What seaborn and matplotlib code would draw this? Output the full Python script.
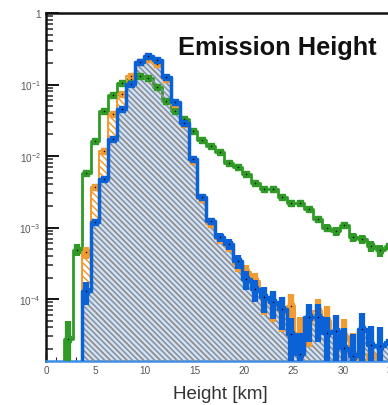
import numpy as np
import pandas as pd
import matplotlib
matplotlib.use("Agg")
import matplotlib.pyplot as plt
from matplotlib.ticker import LogLocator, NullFormatter, FixedLocator, MultipleLocator
import seaborn as sns

# ---------------- data (normalised fraction per bin, 0.9 km bins starting at 0) ----------------
bin_width = 0.9
n_bins = 45
green_vals = [0, 0, 2.76e-5, 4.9e-4, 5.8e-3, 0.0162, 0.0426, 0.0713, 0.105, 0.119,
              0.131, 0.123, 0.0923, 0.0588, 0.0426, 0.0330, 0.0224, 0.0167, 0.0138, 0.0114,
              0.0080, 0.0070, 0.0056, 0.0042, 0.00345, 0.00345, 0.00267, 0.0022, 0.0022, 0.00182,
              0.00132, 0.00098, 0.00089, 0.00108, 0.00074, 0.00069, 0.00055, 0.00048, 0.00055, 0.00045,
              0.00040, 0.00038, 0.00033, 0.00030, 0.00028]
orange_vals = [0, 0, 0, 0, 4.5e-4, 3.7e-3, 0.0117, 0.0387, 0.0736, 0.131,
               0.206, 0.227, 0.194, 0.119, 0.0533, 0.028, 0.0085, 0.0025, 0.00112, 6.9e-4,
               5.5e-4, 3.1e-4, 2.4e-4, 1.79e-4, 1.0e-4, 8.5e-5, 6.8e-5, 8.0e-5, 3.3e-5, 5.0e-5,
               6.8e-5, 5.0e-5, 3.3e-5, 3.0e-5, 1.7e-5, 0, 1.7e-5, 0, 0, 0,
               0, 0, 0, 0, 0]
blue_vals = [0, 0, 0, 0, 1.29e-4, 1.19e-3, 4.77e-3, 0.0173, 0.0454, 0.102,
             0.206, 0.250, 0.220, 0.127, 0.0569, 0.029, 0.0091, 0.00267, 0.00123, 7.4e-4,
             5.9e-4, 3.4e-4, 1.9e-4, 1.38e-4, 1.07e-4, 9.1e-5, 7.2e-5, 3.2e-5, 1.7e-5, 5.6e-5,
             5.6e-5, 3.3e-5, 3.6e-5, 2.1e-5, 1.6e-5, 3.8e-5, 2.3e-5, 2.2e-5, 2.5e-5, 1.7e-5,
             3.3e-5, 1.7e-5, 0, 1.7e-5, 0]
n_events = 60000

xtick_vals = [0, 5, 10, 15, 20, 25, 30, 35, 40]
xtick_labels = ["0", "5", "10", "15", "20", "25", "30", "35", "40"]
ytick_vals = [1, 1e-1, 1e-2, 1e-3, 1e-4]
ytick_labels = ["1", r"$10^{-1}$", r"$10^{-2}$", r"$10^{-3}$", r"$10^{-4}$"]
title_text = "Emission Height"
xlabel_text = "Height [km]"

GREEN = "#2f9a26"
ORANGE = "#f39a30"
BLUE = "#0a62d6"

# ---------------- style ----------------
sns.set_style("ticks")
plt.rcParams["font.family"] = ["Liberation Sans", "DejaVu Sans"]
plt.rcParams["mathtext.fontset"] = "custom"
plt.rcParams["mathtext.rm"] = "Liberation Sans"
plt.rcParams["mathtext.it"] = "Liberation Sans"
plt.rcParams["mathtext.bf"] = "Liberation Sans:bold"
plt.rcParams["hatch.linewidth"] = 1.1

edges = np.arange(n_bins + 1) * bin_width
edge_list = [float(e) for e in edges]
centers = edges[:-1] + bin_width / 2
green = np.array(green_vals)
orange = np.array(orange_vals)
blue = np.array(blue_vals)
df = pd.DataFrame({"center": centers, "green": green, "orange": orange, "blue": blue})

fig = plt.figure(figsize=(3.88, 4.06), dpi=100)
ax = fig.add_axes([46 / 388, 44 / 406, 396 / 388, 348 / 406])
ax.set_yscale("log")
ymin, ymax = 1.36e-5, 1.0
floor = 1e-8
blue_pos = np.where(blue > 0, blue, floor)
orange_pos = np.where(orange > 0, orange, floor)
orange_top = np.maximum(orange_pos, blue_pos)

# light background of the blue histogram
ax.stairs(blue_pos, edges, baseline=floor, fill=True, facecolor="#d3e2f3",
          edgecolor="none", linewidth=0, zorder=1.5)

# green histogram (line underneath the hatches)
sns.histplot(data=df, x="center", weights="green", bins=edge_list, element="step", fill=False,
             color=GREEN, linewidth=2.0, ax=ax, zorder=2)

# hatched fills: dense orange where orange exceeds blue, sparse orange inside blue
ax.stairs(orange_top, edges, baseline=blue_pos, fill=True,
          facecolor="none", edgecolor=ORANGE, hatch="\\\\\\\\\\", linewidth=0, zorder=3)
ax.stairs(np.minimum(orange_pos, blue_pos), edges, baseline=floor, fill=True,
          facecolor="none", edgecolor=ORANGE, hatch="\\\\", linewidth=0, zorder=3)
ax.stairs(blue_pos, edges, baseline=floor, fill=True,
          facecolor="none", edgecolor="#838fa0", hatch="\\\\\\\\\\\\", linewidth=0, zorder=4)

# outlines
sns.histplot(data=df, x="center", weights="orange", bins=edge_list, element="step", fill=False,
             color=ORANGE, linewidth=1.4, ax=ax, zorder=5)
sns.histplot(data=df, x="center", weights="blue", bins=edge_list, element="step", fill=False,
             color=BLUE, linewidth=2.5, ax=ax, zorder=7)


def draw_errors(vals, color, z):
    m = vals > 0
    v = vals[m]
    err = np.sqrt(v * n_events) / n_events
    lo = np.minimum(err, v - floor * 10)
    ax.errorbar(centers[m], v, yerr=[lo, err], fmt="s", ms=4.4, color=color,
                ecolor=color, elinewidth=4.5, capsize=0, zorder=z)
    ax.scatter(centers[m], v, s=1.2, color="black", zorder=z + 0.5, linewidths=0)


draw_errors(green, GREEN, 6)
draw_errors(orange, ORANGE, 6.2)
draw_errors(blue, BLUE, 8)

ax.set_xlim(0, 40)
ax.set_ylim(ymin, ymax)

ax.xaxis.set_major_locator(FixedLocator(xtick_vals))
ax.set_xticklabels(xtick_labels)
ax.xaxis.set_minor_locator(MultipleLocator(1))
ax.yaxis.set_major_locator(FixedLocator(ytick_vals))
ax.set_yticklabels(ytick_labels)
ax.yaxis.set_minor_locator(LogLocator(base=10, subs=np.arange(2, 10)))
ax.yaxis.set_minor_formatter(NullFormatter())

ax.tick_params(axis="both", which="major", direction="in", labelsize=7.2,
               labelcolor="#555555", color="black")
ax.tick_params(axis="y", which="major", length=9.5, width=1.3, pad=4)
ax.tick_params(axis="y", which="minor", direction="in", length=5, width=1.1)
ax.tick_params(axis="x", which="major", length=6, width=1.0, pad=3)
ax.tick_params(axis="x", which="minor", direction="in", length=3, width=0.8)

for s in ["left", "top"]:
    ax.spines[s].set_linewidth(1.8)
    ax.spines[s].set_color("#111111")
ax.spines["right"].set_visible(False)
ax.spines["bottom"].set_color("#3d8ee8")
ax.spines["bottom"].set_linewidth(1.8)

ax.set_ylabel("")
ax.set_xlabel(xlabel_text, fontsize=13.5, color="#333333", labelpad=8)
ax.xaxis.set_label_coords((220 - 46) / 396, -24 / 348)

ax.text((277 - 46) / 396, 1 - (48 - 14) / 348, title_text, transform=ax.transAxes,
        ha="center", va="center", fontsize=18.3, fontweight="bold", color="#111111", zorder=10)

fig.savefig("out.png", dpi=100)
